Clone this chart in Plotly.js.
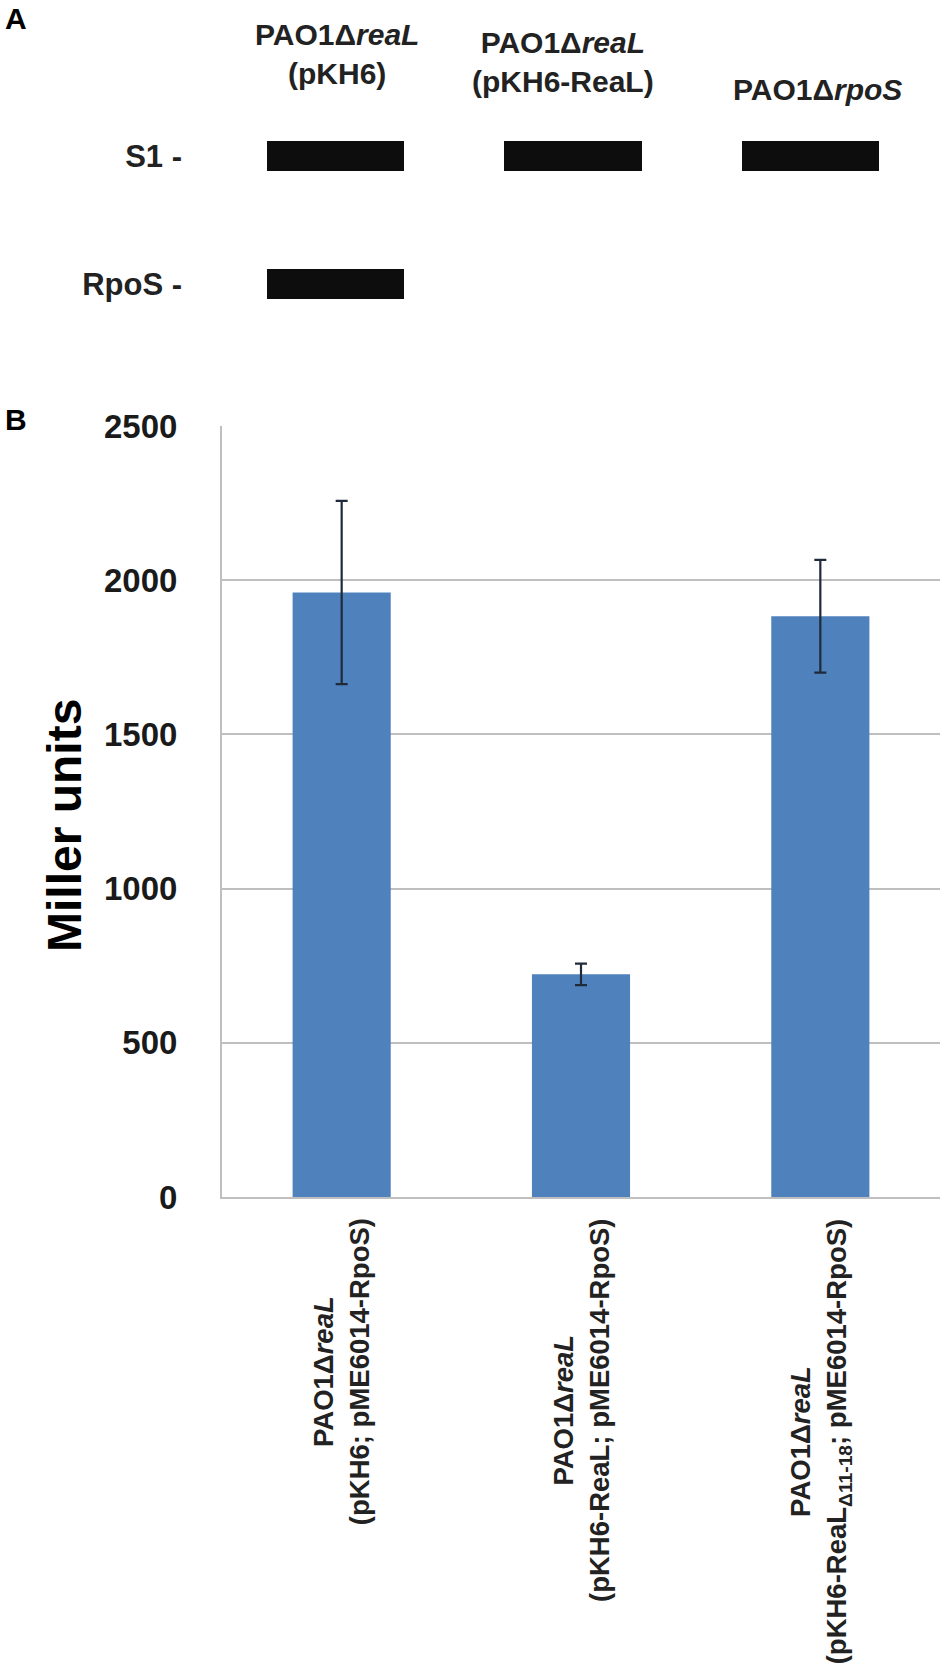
<!DOCTYPE html>
<html>
<head>
<meta charset="utf-8">
<script src="https://cdn.plot.ly/plotly-3.0.1.min.js"></script>
<style>
  body { margin: 0; background: #fff; }
  #chart { width: 950px; height: 1668px; }
</style>
</head>
<body>
<div id="chart"></div>
<script>
// panel B data (Miller units, mean and error)
var strains = ['s1', 's2', 's3'];
var strainLabels = [
    'PAO1Δ<i>reaL</i><br>(pKH6; pME6014-RpoS)',
    'PAO1Δ<i>reaL</i><br>(pKH6-ReaL; pME6014-RpoS)',
    'PAO1Δ<i>reaL</i><br>(pKH6-ReaL<sub>Δ11-18</sub>; pME6014-RpoS)'
];
var millerUnits = [1960, 722, 1883];
var millerErr = [297, 35, 183];

// panel A data (western blot, band present = 1)
var lanes = ['lane1', 'lane2', 'lane3'];
var laneHeaders = [
    'PAO1Δ<i>reaL</i><br>(pKH6)',
    'PAO1Δ<i>reaL</i><br>(pKH6-ReaL)',
    'PAO1Δ<i>rpoS</i>'
];
var proteins = ['RpoS', 'S1'];
var bands = [
    [1, 0, 0],   // RpoS
    [1, 1, 1]    // S1
];

var H = 1668, W = 950;
function py(px) { return 1 - px / H; }
function pxX(px) { return px / W; }

var font = 'Liberation Sans, Arial, sans-serif';
var ink = '#1a1a1a';

var blot = {
    type: 'heatmap',
    x: lanes,
    y: proteins,
    z: bands,
    zmin: 0, zmax: 1,
    colorscale: [[0, '#ffffff'], [1, '#0d0d0d']],
    showscale: false,
    xgap: 100,
    ygap: 98,
    hoverinfo: 'skip',
    xaxis: 'x2',
    yaxis: 'y2'
};

var bars = {
    type: 'bar',
    x: strains,
    y: millerUnits,
    marker: {color: '#4f81bd'},
    error_y: {type: 'data', array: millerErr, visible: true, color: '#1f2a3a', thickness: 2.2, width: 6},
    hoverinfo: 'y',
    xaxis: 'x',
    yaxis: 'y'
};

var annotations = [
    {text: 'A', xref: 'paper', yref: 'paper', x: pxX(3), y: py(18), xanchor: 'left', yanchor: 'middle',
     showarrow: false, font: {family: font, size: 30, weight: 'bold', color: '#000'}},
    {text: 'B', xref: 'paper', yref: 'paper', x: pxX(3), y: py(419), xanchor: 'left', yanchor: 'middle',
     showarrow: false, font: {family: font, size: 30, weight: 'bold', color: '#000'}},
    // y axis title
    {text: 'Miller units', xref: 'paper', yref: 'paper', x: pxX(64), y: py(826), xanchor: 'center', yanchor: 'middle',
     textangle: -90, showarrow: false, font: {family: font, size: 48, weight: 'bold', color: '#000'}}
];

// lane headers over the blot
var headerBottom = [92, 100, 108];
var headerShift = [1, -10, 7];
lanes.forEach(function(l, i) {
    annotations.push({
        text: laneHeaders[i], xref: 'x2', yref: 'paper', x: l, y: py(headerBottom[i]),
        xanchor: 'center', yanchor: 'bottom', xshift: headerShift[i], showarrow: false, align: 'center',
        font: {family: font, size: 30, weight: 'bold', color: '#222'}
    });
});

// rotated strain labels under the bars
strains.forEach(function(s, i) {
    annotations.push({
        text: strainLabels[i], xref: 'x', yref: 'paper', x: s, y: py(1216),
        xanchor: 'center', yanchor: 'top', textangle: -90, showarrow: false, align: 'center',
        font: {family: font, size: 27.5, weight: 'bold', color: '#222'}
    });
});

var layout = {
    width: W,
    height: H,
    margin: {l: 0, r: 0, t: 0, b: 0},
    paper_bgcolor: '#fff',
    plot_bgcolor: 'rgba(0,0,0,0)',
    showlegend: false,
    bargap: 0.59,
    xaxis: {
        domain: [pxX(222), pxX(940)],
        type: 'category',
        showticklabels: false,
        ticks: '',
        showline: true, linecolor: '#bfbfbf', linewidth: 2,
        anchor: 'y'
    },
    yaxis: {
        domain: [py(1197), py(426)],
        range: [0, 2500],
        dtick: 500,
        showgrid: true, gridcolor: '#bfbfbf', gridwidth: 2,
        zeroline: false,
        showline: true, linecolor: '#bfbfbf', linewidth: 2,
        ticks: '',
        ticklabelstandoff: 36,
        tickfont: {family: font, size: 33, weight: 'bold', color: ink},
        anchor: 'x'
    },
    xaxis2: {
        domain: [pxX(217), pxX(929)],
        type: 'category',
        showticklabels: false, showgrid: false, zeroline: false, showline: false, ticks: '',
        anchor: 'y2'
    },
    yaxis2: {
        domain: [py(348), py(92)],
        type: 'category',
        showgrid: false, zeroline: false, showline: false, ticks: '',
        ticksuffix: ' -',
        ticklabelstandoff: 34,
        tickfont: {family: font, size: 31, weight: 'bold', color: '#222'},
        anchor: 'x2'
    },
    annotations: annotations
};

Plotly.newPlot('chart', [blot, bars], layout, {displayModeBar: false, staticPlot: true});
</script>
</body>
</html>
